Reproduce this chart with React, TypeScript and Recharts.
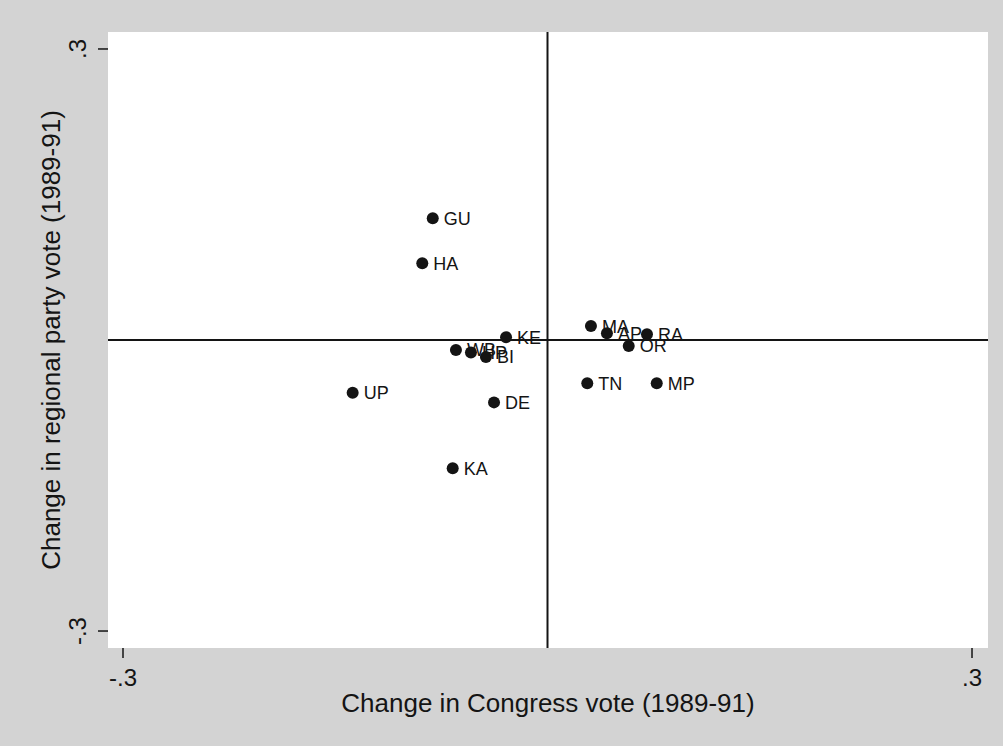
import React from 'react';
import { ScatterChart, Scatter, XAxis, YAxis, ReferenceLine, CartesianGrid, Label } from 'recharts';

// state codes and the two changes (1989-91)
const states = ['GU', 'HA', 'KE', 'WB', 'HP', 'BI', 'UP', 'DE', 'KA', 'MA', 'AP', 'RA', 'OR', 'TN', 'MP'];
const congressChange = [-0.0811, -0.0885, -0.0293, -0.0647, -0.0541, -0.0435, -0.1377, -0.0378, -0.067, 0.0307, 0.042, 0.0703, 0.0574, 0.0281, 0.0772];
const regionalChange = [0.1255, 0.079, 0.0028, -0.0103, -0.0129, -0.0175, -0.0543, -0.0643, -0.1323, 0.0144, 0.0069, 0.0059, -0.0062, -0.0446, -0.0446];

const xTicks = [-0.3, 0.3];
const yTicks = [-0.3, 0.3];
const tickText = (v: number) => (v < 0 ? '-.3' : '.3');

const FONT = '"Liberation Sans", Arial, sans-serif';
const INK = '#141414';

const data = states.map((name, i) => ({ name, x: congressChange[i], y: regionalChange[i] }));

const XTick = (props: any) => {
  const { x, y, payload } = props;
  return (
    <text x={x} y={y} dy={26} textAnchor="middle" fontSize={24} fontFamily={FONT} fill={INK}>
      {tickText(payload.value)}
    </text>
  );
};

const YTick = (props: any) => {
  const { x, y, payload } = props;
  const bx = x - 10;
  return (
    <text x={bx} y={y} transform={`rotate(-90 ${bx} ${y})`} textAnchor="middle" fontSize={24} fontFamily={FONT} fill={INK}>
      {tickText(payload.value)}
    </text>
  );
};

const Dot = (props: any) => {
  const { cx, cy, payload } = props;
  return (
    <g>
      <circle cx={cx} cy={cy} r={6} fill={INK} />
      <text x={cx + 11} y={cy} dy="0.36em" fontSize={18} fontFamily={FONT} fill={INK}>
        {payload.name}
      </text>
    </g>
  );
};

export default function App() {
  return (
    <div style={{ position: 'absolute', left: 0, top: 0, width: 1003, height: 746, background: '#d3d3d3' }}>
      <ScatterChart width={1003} height={746} margin={{ top: 32, right: 15, bottom: 38, left: 48 }}>
        <CartesianGrid horizontal={false} vertical={false} fill="#ffffff" />
        <XAxis
          type="number"
          dataKey="x"
          domain={[-0.3106, 0.3113]}
          ticks={xTicks}
          axisLine={false}
          tickSize={10}
          tickLine={{ stroke: INK, strokeWidth: 1.5 }}
          tick={<XTick />}
          height={60}
        >
          <Label
            content={() => (
              <text x={548} y={712} textAnchor="middle" fontSize={26} fontFamily={FONT} fill={INK}>
                Change in Congress vote (1989-91)
              </text>
            )}
          />
        </XAxis>
        <YAxis
          type="number"
          dataKey="y"
          domain={[-0.3175, 0.3175]}
          ticks={yTicks}
          axisLine={false}
          tickSize={10}
          tickLine={{ stroke: INK, strokeWidth: 1.5 }}
          tick={<YTick />}
          width={60}
        >
          <Label
            content={() => (
              <text x={60} y={340} transform="rotate(-90 60 340)" textAnchor="middle" fontSize={26} fontFamily={FONT} fill={INK}>
                Change in regional party vote (1989-91)
              </text>
            )}
          />
        </YAxis>
        <ReferenceLine x={0} stroke={INK} strokeWidth={2} />
        <ReferenceLine y={0} stroke={INK} strokeWidth={2} />
        <Scatter data={data} shape={<Dot />} isAnimationActive={false} />
      </ScatterChart>
    </div>
  );
}
